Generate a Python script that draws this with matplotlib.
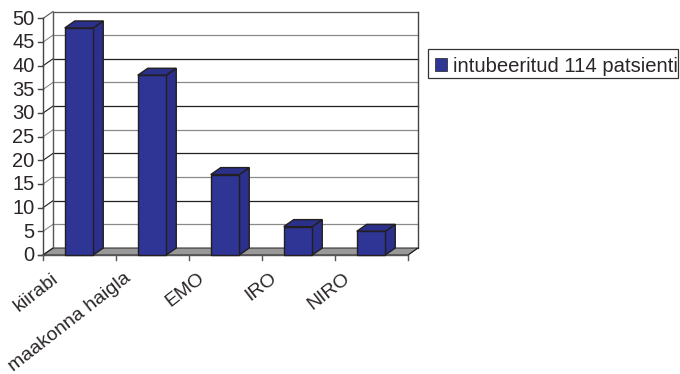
import matplotlib
matplotlib.use('Agg')
import matplotlib.pyplot as plt
from matplotlib.patches import Polygon, Rectangle

plt.rcParams['font.family'] = ['Liberation Sans', 'DejaVu Sans']

# data
categories = ['kiirabi', 'maakonna haigla', 'EMO', 'IRO', 'NIRO']
values = [48, 38, 17, 6, 5]
series_name = 'intubeeritud 114 patsienti'
y_ticks = list(range(0, 55, 5))

W, H = 680, 374
BAR_COLOR = '#2e3595'
SIDE_COLOR = '#2b308a'
TOP_COLOR = '#2b308a'
FLOOR_COLOR = '#999999'
LINE_COLOR = '#231f20'
TEXT_COLOR = '#2a2627'

fig = plt.figure(figsize=(W / 100, H / 100), dpi=100)
# front plane of the pseudo 3D box
left, right, top, bottom = 43.0, 408.0, 18.5, 255.0
ax = fig.add_axes([left / W, 1 - bottom / H, (right - left) / W, (bottom - top) / H])
ax.set_xlim(0, len(categories))
ax.set_ylim(0, 50)
ax.axis('off')

# depth offset of the box, in data units
DX = 10 / ((right - left) / len(categories))
DY = 7 / ((bottom - top) / 50)
n = len(categories)

# floor
ax.add_patch(Polygon([(0, 0), (n, 0), (n + DX, DY), (DX, DY)], closed=True,
                     fc=FLOOR_COLOR, ec=LINE_COLOR, lw=0.7, clip_on=False, zorder=1))

# gridlines on back wall and side wall, every other one looks lighter
for i, t in enumerate(y_ticks):
    c = '#8a8a8a' if i % 2 == 1 else '#231f20'
    if t == 50:
        c = '#555555'
    if t > 0:
        ax.plot([DX, n + DX], [t + DY, t + DY], color=c, lw=0.9, clip_on=False, zorder=2)
    ax.plot([0, DX], [t, t + DY], color=c, lw=0.8, clip_on=False, zorder=2)

# box outline
ax.plot([DX, DX], [DY, 50 + DY], color='#555555', lw=1.0, clip_on=False, zorder=2)
ax.plot([n + DX, n + DX], [DY, 50 + DY], color='#444444', lw=1.0, clip_on=False, zorder=2)
ax.plot([n, n + DX], [0, DY], color=LINE_COLOR, lw=0.7, clip_on=False, zorder=2)

# axis lines and ticks
ax.plot([0, 0], [0, 50], color='#444444', lw=1.0, clip_on=False, zorder=3)
ax.plot([-5 / 73, n], [0, 0], color='#555555', lw=1.0, clip_on=False, zorder=3)
for t in y_ticks:
    ax.annotate(str(t), xy=(0, t), xytext=(-6, -0.5), textcoords='offset points',
                ha='right', va='center', fontsize=14.5, color=TEXT_COLOR, annotation_clip=False)
    ax.plot([-5 / 73, 0], [t, t], color='#444444', lw=1.0, clip_on=False, zorder=3)
for i in range(n + 1):
    ax.plot([i, i], [0, -5 / 4.74], color='#555555', lw=1.0, clip_on=False, zorder=3)

# bars
bar_w = 28.5 / 73
for i, v in enumerate(values):
    x0 = i + 0.5 - bar_w / 2 - 0.5 / 73
    x1 = x0 + bar_w
    ax.bar(x0, v, width=bar_w, align='edge', color=BAR_COLOR, edgecolor=LINE_COLOR,
           linewidth=1.0, clip_on=False, zorder=5)
    ax.add_patch(Polygon([(x1, 0), (x1 + DX, DY), (x1 + DX, v + DY), (x1, v)], closed=True,
                         fc=SIDE_COLOR, ec=LINE_COLOR, lw=1.0, clip_on=False, zorder=4))
    ax.add_patch(Polygon([(x0, v), (x1, v), (x1 + DX, v + DY), (x0 + DX, v + DY)], closed=True,
                         fc=TOP_COLOR, ec=LINE_COLOR, lw=1.0, clip_on=False, zorder=4))

# rotated category labels
for i, name in enumerate(categories):
    ax.annotate(name, xy=(i + 0.5, 0), xytext=(-20.5, -10.5), textcoords='offset points',
                ha='right', va='top', rotation=38, rotation_mode='anchor',
                fontsize=14, color=TEXT_COLOR, annotation_clip=False)

# legend box, the label runs right up to the frame
fig.add_artist(Rectangle((428 / W, 1 - 78 / H), 250 / W, 29 / H, transform=fig.transFigure,
                         fc='white', ec='#333333', lw=0.9))
fig.add_artist(Rectangle((435 / W, 1 - 71 / H), 11.5 / W, 12.5 / H, transform=fig.transFigure,
                         fc=BAR_COLOR, ec=LINE_COLOR, lw=0.5))
fig.text(453 / W, 1 - 66 / H, series_name, ha='left', va='center',
         fontsize=14.6, color=TEXT_COLOR)

fig.savefig('out.png', dpi=100)
plt.close(fig)
